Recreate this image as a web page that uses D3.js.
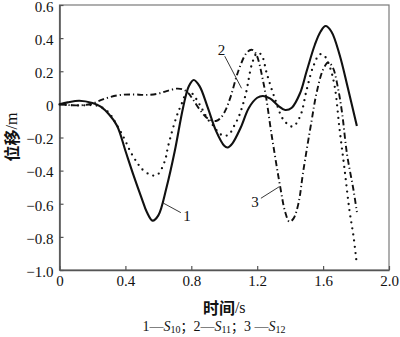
<!DOCTYPE html>
<html>
<head>
<meta charset="utf-8">
<script src="https://cdn.jsdelivr.net/npm/d3@7/dist/d3.min.js"></script>
<style>
  html, body { margin: 0; padding: 0; background: #fff; }
  svg { display: block; }
  text { fill: #111; }
</style>
</head>
<body>
<svg id="chart" width="400" height="337"></svg>
<script>
// Displacement (m) over time (s) at three monitoring points
const t10 = [0, 0.05, 0.12, 0.2, 0.25, 0.3, 0.35, 0.4, 0.45, 0.5, 0.53, 0.565, 0.6, 0.65, 0.7, 0.75, 0.785, 0.815, 0.85, 0.9, 0.95, 1.0, 1.02, 1.05, 1.1, 1.15, 1.2, 1.235, 1.28, 1.33, 1.37, 1.41, 1.46, 1.5, 1.55, 1.585, 1.615, 1.65, 1.7, 1.75, 1.805];
const s10 = [0, 0.012, 0.022, 0.008, -0.014, -0.06, -0.13, -0.28, -0.43, -0.57, -0.65, -0.702, -0.67, -0.5, -0.28, -0.02, 0.11, 0.147, 0.11, -0.02, -0.16, -0.25, -0.26, -0.235, -0.14, -0.02, 0.04, 0.051, 0.035, -0.01, -0.034, -0.02, 0.067, 0.2, 0.36, 0.44, 0.473, 0.44, 0.3, 0.1, -0.13];

const t11 = [0, 0.05, 0.1, 0.15, 0.2, 0.25, 0.3, 0.33, 0.39, 0.43, 0.47, 0.5, 0.55, 0.575, 0.6, 0.64, 0.66, 0.71, 0.74, 0.775, 0.8, 0.85, 0.9, 0.93, 0.97, 1.0, 1.03, 1.06, 1.09, 1.13, 1.17, 1.2, 1.225, 1.26, 1.31, 1.36, 1.415, 1.46, 1.5, 1.54, 1.58, 1.61, 1.64, 1.67, 1.7, 1.73, 1.76, 1.785, 1.805];
const s11 = [0, -0.004, -0.006, -0.006, -0.004, -0.015, -0.05, -0.095, -0.2, -0.285, -0.35, -0.39, -0.425, -0.43, -0.42, -0.34, -0.25, -0.075, 0, 0.075, 0.07, 0, -0.09, -0.125, -0.175, -0.19, -0.18, -0.13, -0.07, 0.06, 0.25, 0.31, 0.3, 0.18, 0.027, -0.094, -0.134, -0.074, 0.087, 0.228, 0.302, 0.29, 0.228, 0.11, -0.15, -0.39, -0.64, -0.8, -0.97];

const t12 = [0, 0.05, 0.1, 0.15, 0.2, 0.25, 0.3, 0.37, 0.45, 0.52, 0.59, 0.65, 0.71, 0.75, 0.78, 0.81, 0.85, 0.9, 0.95, 0.98, 1.01, 1.04, 1.085, 1.135, 1.165, 1.19, 1.24, 1.29, 1.34, 1.37, 1.395, 1.42, 1.45, 1.48, 1.53, 1.56, 1.6, 1.632, 1.66, 1.69, 1.715, 1.745, 1.785, 1.805];
const s12 = [0, -0.004, -0.006, -0.004, 0.005, 0.025, 0.042, 0.057, 0.06, 0.057, 0.063, 0.08, 0.095, 0.09, 0.07, 0.03, -0.03, -0.085, -0.1, -0.08, -0.03, 0.05, 0.2, 0.31, 0.33, 0.31, 0.12, -0.2, -0.5, -0.65, -0.708, -0.69, -0.6, -0.4, -0.1, 0.067, 0.21, 0.254, 0.22, 0.1, -0.05, -0.3, -0.52, -0.65];

const xTicks = [0, 0.4, 0.8, 1.2, 1.6, 2.0];
const xTickLabels = ["0", "0.4", "0.8", "1.2", "1.6", "2.0"];
const yTicks = [0.6, 0.4, 0.2, 0, -0.2, -0.4, -0.6, -0.8, -1.0];
const yTickLabels = ["0.6", "0.4", "0.2", "0", "\u22120.2", "\u22120.4", "\u22120.6", "\u22120.8", "\u22121.0"];

// curve numbers: label position (px) and the point (t, value) its leader line reaches
const curveLabels = [
  { text: "1", tx: 187, ty: 216, at: [0.63, -0.596] },
  { text: "2", tx: 221.5, ty: 50, at: [1.105, 0.097] },
  { text: "3", tx: 255, ty: 202, at: [1.334, -0.497] }
];

const svg = d3.select("#chart");
const plot = { left: 59.5, right: 389, top: 5, bottom: 270 };

const x = d3.scaleLinear().domain([0, 2.0]).range([plot.left, plot.right]);
const y = d3.scaleLinear().domain([-1.0, 0.6]).range([plot.bottom, plot.top]);

const serif = "'Liberation Serif', 'Times New Roman', 'DejaVu Serif', serif";
const cjk = "'Noto Sans CJK SC', sans-serif";

// frame
svg.append("rect")
  .attr("x", plot.left).attr("y", plot.top)
  .attr("width", plot.right - plot.left).attr("height", plot.bottom - plot.top)
  .attr("fill", "none").attr("stroke", "#7a7a7a").attr("stroke-width", 1.2);

// axes with inward ticks
const xAxis = d3.axisBottom(x).tickValues(xTicks)
  .tickFormat((d, i) => xTickLabels[i]).tickSizeInner(-4).tickSizeOuter(0).tickPadding(5);
const yAxis = d3.axisLeft(y).tickValues(yTicks)
  .tickFormat((d, i) => yTickLabels[i]).tickSizeInner(-4).tickSizeOuter(0).tickPadding(6);

const gx = svg.append("g").attr("transform", `translate(0,${plot.bottom})`).call(xAxis);
const gy = svg.append("g").attr("transform", `translate(${plot.left},0)`).call(yAxis);
[gx, gy].forEach(g => {
  g.attr("font-family", null).attr("font-size", null);
  g.select(".domain").attr("stroke", "#555").attr("stroke-width", 1.6);
  g.selectAll(".tick line").attr("stroke", "#555").attr("stroke-width", 1.2);
  g.selectAll(".tick text")
    .style("font-family", serif).style("font-size", "15px").attr("fill", "#111");
});
gy.selectAll(".tick text").attr("dy", "0.42em");

// curves
const line = d3.line().curve(d3.curveCatmullRom.alpha(0.5))
  .x(d => x(d[0])).y(d => y(d[1]));

const seriesList = [
  { t: t10, v: s10, dash: null, width: 2.1, cap: "butt" },
  { t: t11, v: s11, dash: "0 6.2", width: 2.3, cap: "round" },
  { t: t12, v: s12, dash: "6 3 1.2 3", width: 1.9, cap: "butt" }
];

seriesList.forEach(s => {
  const pts = s.t.map((tt, i) => [tt, s.v[i]]);
  svg.append("path")
    .datum(pts)
    .attr("d", line)
    .attr("fill", "none")
    .attr("stroke", "#111")
    .attr("stroke-width", s.width)
    .attr("stroke-linecap", s.cap)
    .attr("stroke-linejoin", "round")
    .attr("stroke-dasharray", s.dash);
});

// leader lines and curve numbers
curveLabels.forEach(l => {
  const px = x(l.at[0]), py = y(l.at[1]);
  const dx = px - l.tx, dy = py - l.ty;
  const len = Math.hypot(dx, dy);
  const sx = l.tx + dx / len * 7, sy = l.ty + dy / len * 7;
  svg.append("line")
    .attr("x1", sx).attr("y1", sy).attr("x2", px).attr("y2", py)
    .attr("stroke", "#222").attr("stroke-width", 0.9);
  svg.append("text")
    .attr("x", l.tx).attr("y", l.ty)
    .attr("text-anchor", "middle").attr("dominant-baseline", "central")
    .style("font-family", serif).style("font-size", "15px")
    .text(l.text);
});

// axis titles
const xt = svg.append("text")
  .attr("x", (plot.left + plot.right) / 2).attr("y", 307)
  .attr("text-anchor", "middle").attr("dominant-baseline", "central")
  .style("font-size", "16px");
xt.append("tspan").style("font-family", cjk).style("font-weight", 600).text("时间");
xt.append("tspan").style("font-family", serif).text("/s");

const yt = svg.append("text")
  .attr("transform", "translate(11,137) rotate(-90)")
  .attr("text-anchor", "middle").attr("dominant-baseline", "central")
  .style("font-size", "16px");
yt.append("tspan").style("font-family", cjk).style("font-weight", 600).text("位移");
yt.append("tspan").style("font-family", serif).text("/m");

// series key
const legendItems = [
  { num: "1—", sub: "10", sep: "；" },
  { num: "2—", sub: "11", sep: "；" },
  { num: "3 —", sub: "12", sep: "" }
];
const lg = svg.append("text")
  .attr("x", 214).attr("y", 331)
  .attr("text-anchor", "middle")
  .style("font-family", serif).style("font-size", "14px");
legendItems.forEach(it => {
  lg.append("tspan").text(it.num);
  lg.append("tspan").style("font-style", "italic").text("S");
  lg.append("tspan").style("font-size", "10px").attr("dy", 2).text(it.sub);
  lg.append("tspan").attr("dy", -2).style("font-family", cjk).style("font-size", "13px")
    .text(it.sep);
});
</script>
</body>
</html>
